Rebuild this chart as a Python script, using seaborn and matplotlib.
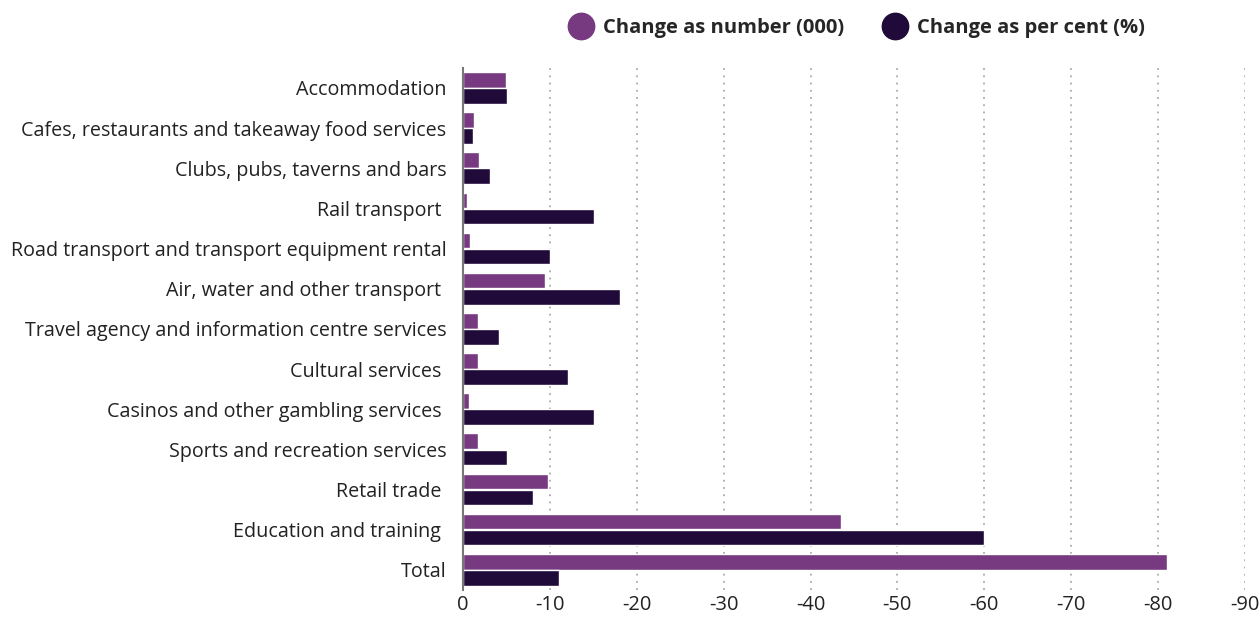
import pandas as pd
import matplotlib.pyplot as plt
import seaborn as sns
from matplotlib.lines import Line2D

categories = [
    "Accommodation",
    "Cafes, restaurants and takeaway food services",
    "Clubs, pubs, taverns and bars",
    "Rail transport ",
    "Road transport and transport equipment rental",
    "Air, water and other transport ",
    "Travel agency and information centre services",
    "Cultural services ",
    "Casinos and other gambling services ",
    "Sports and recreation services",
    "Retail trade ",
    "Education and training ",
    "Total",
]
change_number = [-4.9, -1.3, -1.8, -0.4, -0.8, -9.4, -1.7, -1.7, -0.7, -1.7, -9.8, -43.5, -81.0]
change_percent = [-5.1, -1.1, -3.1, -15.1, -10.0, -18.1, -4.1, -12.1, -15.1, -5.1, -8.1, -60.0, -11.1]
series_names = ["Change as number (000)", "Change as per cent (%)"]
colors = ["#773A80", "#200A3A"]
xticks = [0, -10, -20, -30, -40, -50, -60, -70, -80, -90]

df = pd.DataFrame({
    "Category": categories * 2,
    "Value": change_number + change_percent,
    "Series": [series_names[0]] * len(categories) + [series_names[1]] * len(categories),
})

sns.set_theme(style="white")
plt.rcParams["font.family"] = ["Open Sans", "DejaVu Sans"]
plt.rcParams["axes.unicode_minus"] = False

fig = plt.figure(figsize=(12.6, 6.17), dpi=100)
ax = fig.add_axes([0.3675, 0.044, 0.6205, 0.846])

sns.barplot(data=df, y="Category", x="Value", hue="Series", orient="h",
            palette=colors, width=0.8, gap=0.03, saturation=1, ax=ax, legend=False)

ax.set_xlim(0, -90)
ax.set_xticks(xticks)
ax.set_xticklabels([str(t) for t in xticks], fontsize=14.5, color="#222222")
ax.set_ylim(len(categories) - 0.5, -0.5)
ax.tick_params(axis="y", labelsize=14.2, colors="#222222", length=0, pad=12)
ax.tick_params(axis="x", length=0, pad=4)
ax.set_xlabel("")
ax.set_ylabel("")

ax.xaxis.grid(True, linestyle=(0, (1, 3)), color="#aaaaaa", linewidth=1.3)
ax.set_axisbelow(True)
for side in ["top", "right", "bottom"]:
    ax.spines[side].set_visible(False)
ax.spines["left"].set_color("#777777")
ax.spines["left"].set_linewidth(1.5)

handles = [Line2D([], [], marker="o", linestyle="", markersize=19,
                  markerfacecolor=c, markeredgecolor=c) for c in colors]
leg = fig.legend(handles, series_names, loc="center", bbox_to_anchor=(0.677, 0.955),
                 ncol=2, frameon=False, handletextpad=0.1, columnspacing=1.5,
                 prop={"weight": "bold", "size": 14.5})

fig.savefig("out.png", dpi=100)
